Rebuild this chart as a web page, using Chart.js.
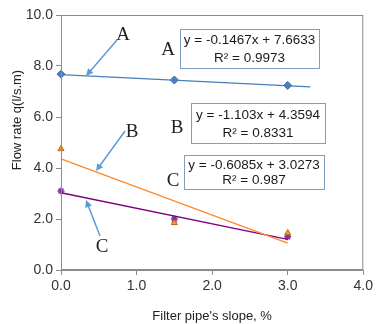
<!DOCTYPE html>
<html><head><meta charset="utf-8">
<script src="https://cdn.jsdelivr.net/npm/chart.js@4/dist/chart.umd.min.js"></script>
<style>html,body{margin:0;padding:0;background:#fff}#wrap{width:376px;height:324px}</style>
</head><body><div id="wrap"><canvas id="c" width="376" height="324"></canvas></div>
<script>
const slopes = [0, 1.5, 3.0];
const seriesA = [7.68, 7.45, 7.24];
const seriesB = [4.75, 1.85, 1.45];
const seriesC = [3.10, 2.00, 1.30];
const trendA = [{x:0, y:7.6633}, {x:3.3, y:7.1792}];
const trendB = [{x:0, y:4.3594}, {x:3.0, y:1.0504}];
const trendC = [{x:0, y:3.0273}, {x:3.0, y:1.2018}];
const xTicks = [0, 1, 2, 3, 4];
const yTicks = [0, 2, 4, 6, 8, 10];
const equations = [
  ["y = -0.1467x + 7.6633", "R² = 0.9973"],
  ["y = -1.103x + 4.3594", "R² = 0.8331"],
  ["y = -0.6085x + 3.0273", "R² = 0.987"]
];
const labels = ["A", "B", "C"];
const yTitle = "Flow rate q(l/s.m)";

const pts = arr => slopes.map((x,i)=>({x, y: arr[i]}));
const FONT = "'Liberation Sans', Arial, sans-serif";

const annot = {
  id: 'annot',
  afterDraw(chart) {
    const ctx = chart.ctx, a = chart.chartArea;
    ctx.save();
    ctx.strokeStyle = '#8c8c8c'; ctx.lineWidth = 1;
    ctx.strokeRect(a.left + 0.5, a.top + 0.5, a.right - a.left - 1, a.bottom - a.top - 1);
    // y title
    ctx.save();
    ctx.translate(17, 120); ctx.rotate(-Math.PI / 2);
    ctx.font = "13px " + FONT; ctx.fillStyle = '#222';
    ctx.textAlign = 'center'; ctx.textBaseline = 'middle';
    ctx.fillText(yTitle, 0, 0);
    ctx.restore();
    // equation boxes
    const boxes = [[180, 29, 139, 39], [191, 103, 134, 40], [184, 155, 140, 34]];
    ctx.font = "13.5px " + FONT;
    ctx.textAlign = 'center'; ctx.textBaseline = 'middle';
    boxes.forEach((b, i) => {
      ctx.fillStyle = '#fff'; ctx.fillRect(b[0], b[1], b[2], b[3]);
      ctx.strokeStyle = '#7f9dc0'; ctx.strokeRect(b[0] + 0.5, b[1] + 0.5, b[2], b[3]);
      ctx.fillStyle = '#1a1a1a';
      const cx = b[0] + b[2] / 2;
      ctx.fillText(equations[i][0], cx, b[1] + b[3] * 0.3);
      ctx.fillText(equations[i][1], cx, b[1] + b[3] * 0.75);
    });
    // letters
    ctx.font = "19px 'Liberation Serif', 'Times New Roman', serif";
    ctx.fillStyle = '#222';
    const lp = [[0, 123, 35], [0, 168, 50], [1, 132, 132], [1, 177, 128], [2, 173, 181], [2, 102, 247]];
    lp.forEach(p => ctx.fillText(labels[p[0]], p[1], p[2]));
    // arrows
    const arrows = [[117, 40, 86, 76], [125, 131, 96, 171], [100, 236, 86, 200]];
    ctx.strokeStyle = '#5b9bd5'; ctx.fillStyle = '#5b9bd5'; ctx.lineWidth = 1.5;
    arrows.forEach(r => {
      const [x1, y1, x2, y2] = r;
      const ang = Math.atan2(y2 - y1, x2 - x1), L = 8, w = 0.45;
      ctx.beginPath(); ctx.moveTo(x1, y1); ctx.lineTo(x2 - Math.cos(ang) * 4, y2 - Math.sin(ang) * 4); ctx.stroke();
      ctx.beginPath();
      ctx.moveTo(x2, y2);
      ctx.lineTo(x2 - L * Math.cos(ang - w), y2 - L * Math.sin(ang - w));
      ctx.lineTo(x2 - L * Math.cos(ang + w), y2 - L * Math.sin(ang + w));
      ctx.closePath(); ctx.fill();
    });
    ctx.restore();
  }
};

new Chart(document.getElementById('c'), {
  type: 'scatter',
  data: {
    datasets: [
      {data: trendA, showLine: true, borderColor: '#4a7ebb', borderWidth: 1.2, pointRadius: 0, fill: false, clip: false},
      {data: trendB, showLine: true, borderColor: '#ff8a2a', borderWidth: 1.4, pointRadius: 0, fill: false, clip: false},
      {data: trendC, showLine: true, borderColor: '#800080', borderWidth: 1.4, pointRadius: 0, fill: false, clip: false},
      {data: pts(seriesA), pointStyle: 'rectRot', pointRadius: 4, backgroundColor: '#4f81bd', borderColor: '#3c6ba5', borderWidth: 1, clip: false},
      {data: pts(seriesB), pointStyle: 'triangle', pointRadius: 3.5, backgroundColor: '#f0a030', borderColor: '#b8641a', borderWidth: 1, clip: false},
      {data: pts(seriesC), pointStyle: 'star', pointRadius: 3.5, backgroundColor: '#7f2f9f', borderColor: '#7f2f9f', borderWidth: 1.5, clip: false}
    ]
  },
  options: {
    responsive: false, animation: false, devicePixelRatio: 1,
    layout: {padding: {top: 15, right: 10, left: 0, bottom: 0}},
    plugins: {legend: {display: false}, tooltip: {enabled: false}},
    scales: {
      x: {
        type: 'linear', min: 0, max: 4,
        afterBuildTicks: s => { s.ticks = xTicks.map(v => ({value: v})); },
        afterFit: s => { s.height = 54; },
        grid: {drawOnChartArea: false, drawTicks: true, tickLength: 5, color: '#8c8c8c'},
        border: {display: true, color: '#8c8c8c'},
        ticks: {color: '#333', font: {family: FONT, size: 14}, padding: 3, callback: v => Number(v).toFixed(1)},
        title: {display: true, text: "Filter pipe's slope, %", color: '#222', font: {family: FONT, size: 13}, padding: {top: 4, bottom: 0}}
      },
      y: {
        type: 'linear', min: 0, max: 10,
        afterBuildTicks: s => { s.ticks = yTicks.map(v => ({value: v})); },
        afterFit: s => { s.width = 61; },
        grid: {drawOnChartArea: false, drawTicks: true, tickLength: 5, color: '#8c8c8c'},
        border: {display: true, color: '#8c8c8c'},
        ticks: {color: '#333', font: {family: FONT, size: 14}, padding: 3, callback: v => Number(v).toFixed(1)},
        title: {display: false}
      }
    }
  },
  plugins: [annot]
});
</script></body></html>
